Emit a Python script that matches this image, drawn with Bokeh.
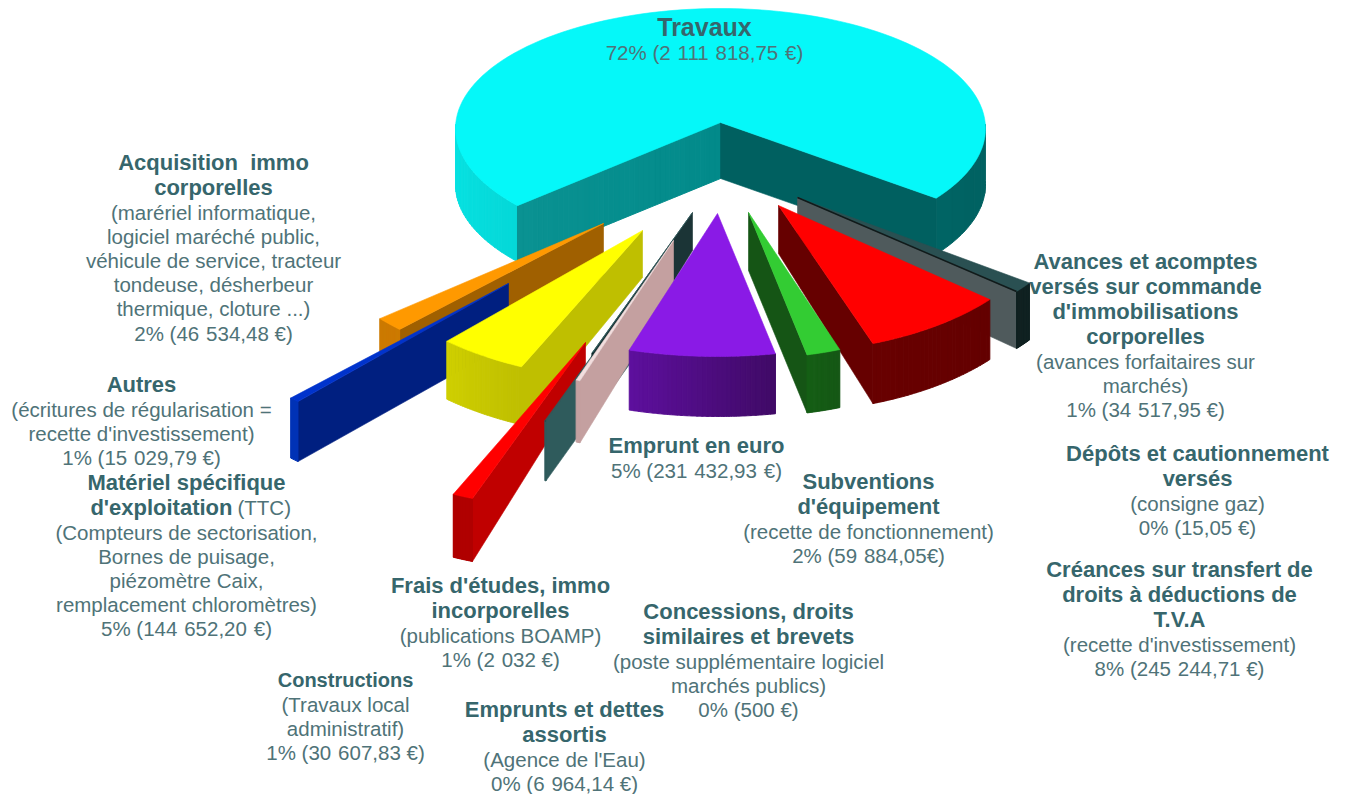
import math
from bokeh.plotting import figure
from bokeh.models import Range1d
from bokeh.core.properties import value
from bokeh.embed import file_html
from bokeh.resources import INLINE

# ---- data ----
names = ["Travaux", "Avances", "Dépôts", "Créances", "Subventions", "Emprunt euro", "Emprunts dettes",
         "Concessions", "Frais", "Constructions", "Matériel", "Autres", "Acquisition"]
values = [2111818.75, 34517.95, 15.05, 245244.71, 59884.05, 231432.93, 6964.14,
          500.0, 2032.0, 30607.83, 144652.20, 15029.79, 46534.48]

# ---- per-slice explode, projected radii, rotation and thickness ----
apex_x = [720, 797, 797, 778, 748, 717, 673, 692, 646, 585, 642, 508, 603]
apex_y = [122, 197, 197, 205, 212, 213, 240, 212, 280, 342, 230, 283, 223]
rad_x = [265, 285, 285, 275, 266, 298, 277, 285, 285, 317, 290, 312, 292]
rad_y = [120, 147, 147, 147, 146, 143, 149, 150, 150, 167, 150, 160, 148]
shift = [0, 4, 4, 4, 4, 2.5, 0, 0, 0, 0, 0, 0, 0]
depth_in = [56, 50, 50, 48, 58, 60, 50, 38, 60, 38, 47, 60, 55]
depth_out = [56, 57, 57, 60, 58, 60, 62, 60, 60, 63, 58, 60, 60]
tops = ["#05f8f9", "#2a5052", "#2a5052", "#ff0000", "#33cc33", "#8a1ae6", "#f3dede", "#2f5b5c", "#2f5b5c",
        "#ff0000", "#ffff00", "#0033cc", "#ff9900"]
walls = ["#038d8d", "#4f5a5c", "#4f5a5c", "#660000", "#155515", "#4a0c80", "#c4a0a0", "#1b3436", "#2f5b5c",
         "#c00000", "#bfbf00", "#001f80", "#a06000"]
front_a = ["#05d8d8", "#112222", "#112222", "#680000", "#155f15", "#5e0f9e", "#c4a0a0", "#1b3436", "#2f5b5c",
           "#b00000", "#cfcf00", "#0033bb", "#cc7a00"]
front_b = ["#006464", "#112222", "#112222", "#640000", "#155715", "#3f0a66", "#c4a0a0", "#1b3436", "#2f5b5c",
           "#b00000", "#bfbf00", "#0030b0", "#cc7a00"]
draw_order = [0, 12, 11, 10, 9, 8, 7, 6, 5, 1, 3, 4]
travaux_end_shift = 4
travaux_center_dy = 6
travaux_wall_right = "#006060"

# ---- labels ----
bold_lines = [
    ["Travaux"],
    ["Avances et acomptes", "versés sur commande", "d'immobilisations", "corporelles"],
    ["Dépôts et cautionnement", "versés"],
    ["Créances sur transfert de", "droits à déductions de", "T.V.A"],
    ["Subventions", "d'équipement"],
    ["Emprunt en euro"],
    ["Emprunts et dettes", "assortis"],
    ["Concessions, droits", "similaires et brevets"],
    ["Frais d'études, immo", "incorporelles"],
    ["Constructions"],
    ["Matériel spécifique"],
    ["Autres"],
    ["Acquisition\u00a0 immo", "corporelles"],
]
plain_lines = [
    ["72% (2\u2004111\u2004818,75\u2004€)"],
    ["(avances forfaitaires sur", "marchés)", "1% (34\u2004517,95 €)"],
    ["(consigne gaz)", "0% (15,05 €)"],
    ["(recette d'investissement)", "8% (245\u2004244,71 €)"],
    ["(recette de fonctionnement)", "2% (59\u2004884,05€)"],
    ["5% (231\u2004432,93\u2004€)"],
    ["(Agence de l'Eau)", "0% (6\u2004964,14 €)"],
    ["(poste supplémentaire logiciel", "marchés publics)", "0% (500 €)"],
    ["(publications BOAMP)", "1% (2\u2004032 €)"],
    ["(Travaux local", "administratif)", "1% (30\u2004607,83 €)"],
    ["(Compteurs de sectorisation,", "Bornes de puisage,", "piézomètre Caix,",
     "remplacement chloromètres)", "5% (144\u2004652,20\u2004€)"],
    ["(écritures de régularisation =", "recette d'investissement)", "1% (15\u2004029,79 €)"],
    ["(marériel informatique,", "logiciel maréché public,", "véhicule de service, tracteur",
     "tondeuse, désherbeur", "thermique, cloture ...)", "2% (46\u2004534,48 €)"],
]
label_x = [704, 1145, 1197, 1179, 868, 696, 564, 748, 500, 345, 186, 141, 213]
label_y = [26, 261, 453, 569, 481, 445, 709, 611, 585, 679, 482, 384, 162]
extra_pieces = [("d'exploitation", 232, 507, True, "right"), ("(TTC)", 237, 507, False, "left")]
matiere_plain_start = 532
line_step = 24.4
BOLD_COL = "#36666c"
PLAIN_COL = "#4f7378"
FONT = "Liberation Sans"
TITLE_SIZE = "25px"
BOLD_SIZE = "22px"
SMALL_BOLD_SIZE = "20px"
PLAIN_SIZE = "20.5px"

# ---- geometry ----
total = sum(values)
angles = [None] * len(values)
travaux_sweep = 360 * values[0] / total
a = -50 + (360 - travaux_sweep)
for i in range(1, len(values)):
    hi = a
    lo = a - 360 * values[i] / total
    a = lo
    angles[i] = (lo + shift[i], hi + shift[i])
angles[0] = (-50 - travaux_sweep + travaux_end_shift, -50)


def hexmix(c0, c1, t):
    r0, g0, b0 = int(c0[1:3], 16), int(c0[3:5], 16), int(c0[5:7], 16)
    r1, g1, b1 = int(c1[1:3], 16), int(c1[3:5], 16), int(c1[5:7], 16)
    return "#%02x%02x%02x" % (round(r0 + (r1 - r0) * t), round(g0 + (g1 - g0) * t), round(b0 + (b1 - b0) * t))


def pt(cx, cy, fx, ky, deg):
    r = math.radians(deg)
    return cx + fx * math.sin(r), cy + ky * math.cos(r)


p = figure(width=1347, height=794, output_backend="svg", toolbar_location=None,
           x_range=Range1d(0, 1347), y_range=Range1d(794, 0), min_border=0,
           outline_line_color=None)
p.axis.visible = False
p.grid.visible = False


def poly(xs, ys, col, lw=0.6):
    p.patch(xs, ys, fill_color=col, line_color=col, line_width=lw)


def band(cx, cy, fx, ky, a0, a1, dep, c0, c1, nseg):
    """Outer wall between angles a0 < a1, shaded from c0 (left) to c1 (right)."""
    for j in range(nseg):
        t0 = a0 + (a1 - a0) * j / nseg
        t1 = a0 + (a1 - a0) * (j + 1) / nseg
        q = [pt(cx, cy, fx, ky, t0 + (t1 - t0) * m / 4) for m in range(5)]
        xs = [u for u, _ in q] + [u for u, _ in reversed(q)]
        ys = [v for _, v in q] + [v + dep for _, v in reversed(q)]
        poly(xs, ys, hexmix(c0, c1, (j + 0.5) / nseg), 1.0)


for i in draw_order:
    ax, ay, fx, ky = apex_x[i], apex_y[i], rad_x[i], rad_y[i]
    lo, hi = angles[i]
    if i == 0:
        cy = ay + travaux_center_dy
        band(ax, cy, fx, ky, -92, -50, depth_out[0], "#08e4e4", front_a[0], 30)
        right_end = lo + 360
        band(ax, cy, fx, ky, right_end, 92, depth_out[0], front_b[0], travaux_wall_right, 6)
        lx, ly = pt(ax, cy, fx, ky, -50)
        rx, ry = pt(ax, cy, fx, ky, right_end)
        d = depth_out[0]
        for j in range(40):
            t0, t1 = j / 40, (j + 1) / 40
            xs = [ax + (lx - ax) * t0, ax + (lx - ax) * t1, ax + (lx - ax) * t1, ax + (lx - ax) * t0]
            y0 = ay + (ly - ay) * t0
            y1 = ay + (ly - ay) * t1
            poly(xs, [y0, y1, y1 + d, y0 + d], hexmix("#028a8a", "#0a9292", (j + .5) / 40), 1.0)
        poly([ax, rx, rx, ax], [ay, ry, ry + d, ay + d], travaux_wall_right)
        q = [pt(ax, cy, fx, ky, -50 - (-50 - lo) * m / 120) for m in range(121)]
        poly([ax] + [u for u, _ in q], [ay] + [v for _, v in q], tops[0])
        continue

    x_lo, y_lo = pt(ax, ay, fx, ky, lo)
    x_hi, y_hi = pt(ax, ay, fx, ky, hi)
    if lo > 0:
        ex, ey = x_lo, y_lo
    elif hi < 0:
        ex, ey = x_hi, y_hi
    else:
        ex = None
    if ex is not None:
        poly([ax, ex, ex, ax], [ay, ey, ey + depth_out[i], ay + depth_in[i]], walls[i])
    band(ax, ay, fx, ky, lo, hi, depth_out[i], front_a[i], front_b[i], 30 if hi - lo > 3 else 1)
    q = [pt(ax, ay, fx, ky, lo + (hi - lo) * m / 30) for m in range(31)]
    poly([ax] + [u for u, _ in q], [ay] + [v for _, v in q], tops[i])
    if i == 1:
        p.line([ax, ex], [ay, ey], line_color="#111a1a", line_width=1.5)


def put(x, y, text, bold, size, align="center"):
    p.text([x], [y], text=[text], text_font=value(FONT),
           text_font_size=value(size), text_font_style="bold" if bold else "normal",
           text_color=BOLD_COL if bold else PLAIN_COL, text_align=align, text_baseline="middle")


for i in range(len(values)):
    y = label_y[i]
    for t in bold_lines[i]:
        size = TITLE_SIZE if i == 0 else (SMALL_BOLD_SIZE if i == 9 else BOLD_SIZE)
        put(label_x[i], y, t, True, size)
        y += line_step + (2 if i == 0 else 0.6)
    if i == 10:
        for t, xx, yy, b, al in extra_pieces:
            put(xx, yy, t, b, BOLD_SIZE if b else PLAIN_SIZE, al)
        y = matiere_plain_start
    for t in plain_lines[i]:
        put(label_x[i], y, t, False, PLAIN_SIZE)
        y += line_step - 0.3

open("out.html", "w").write(file_html(p, INLINE))
